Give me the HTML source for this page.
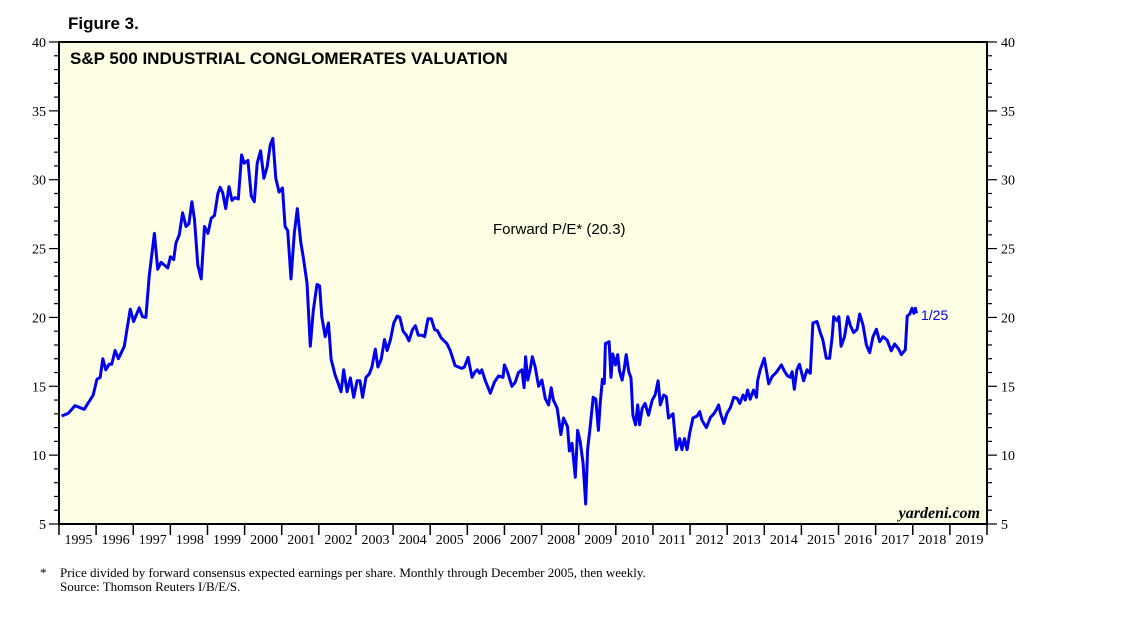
<!DOCTYPE html>
<html><head><meta charset="utf-8"><style>
body{margin:0;background:#fff;width:1138px;height:628px;overflow:hidden}
svg{display:block}
</style></head><body>
<svg id="chart" width="1138" height="628" xmlns="http://www.w3.org/2000/svg">
<text x="68" y="29" font-family="Liberation Sans, sans-serif" font-weight="bold" font-size="17">Figure 3.</text>
<rect x="59" y="42" width="928" height="482" fill="#fefee4" stroke="#000" stroke-width="2"/>
<g id="axes"></g>
<polyline id="line" fill="none" stroke="#0000ee" stroke-width="3" stroke-linejoin="round"/>
<text x="70" y="64" font-family="Liberation Sans, sans-serif" font-weight="bold" font-size="17">S&amp;P 500 INDUSTRIAL CONGLOMERATES VALUATION</text>
<text x="493" y="234" font-family="Liberation Sans, sans-serif" font-size="15">Forward P/E* (20.3)</text>
<text x="921" y="320" fill="#0000ee" font-family="Liberation Sans, sans-serif" font-size="14">1/25</text>
<text x="980" y="518" text-anchor="end" font-family="Liberation Serif, serif" font-style="italic" font-weight="bold" font-size="16">yardeni.com</text>
<text x="40" y="577" font-family="Liberation Serif, serif" font-size="13">*</text>
<text x="60" y="577" font-family="Liberation Serif, serif" font-size="13">Price divided by forward consensus expected earnings per share. Monthly through December 2005, then weekly.</text>
<text x="60" y="591" font-family="Liberation Serif, serif" font-size="13">Source: Thomson Reuters I/B/E/S.</text>
</svg>
<script>
const yearLabels=[1995,1996,1997,1998,1999,2000,2001,2002,2003,2004,2005,2006,2007,2008,2009,2010,2011,2012,2013,2014,2015,2016,2017,2018,2019];
const yTicks=[5,10,15,20,25,30,35,40];
const dates=[1995.07,1995.25,1995.43,1995.68,1995.92,1996.02,1996.11,1996.18,1996.26,1996.35,1996.42,1996.51,1996.60,1996.76,1996.83,1996.92,1997.01,1997.16,1997.25,1997.34,1997.43,1997.57,1997.66,1997.75,1997.93,1998.0,1998.09,1998.15,1998.24,1998.33,1998.42,1998.50,1998.58,1998.65,1998.74,1998.83,1998.92,1999.01,1999.10,1999.19,1999.28,1999.34,1999.41,1999.49,1999.58,1999.66,1999.74,1999.83,1999.92,1999.99,2000.09,2000.18,2000.26,2000.34,2000.43,2000.52,2000.61,2000.69,2000.76,2000.84,2000.93,2001.02,2001.09,2001.16,2001.25,2001.34,2001.42,2001.51,2001.58,2001.68,2001.77,2001.85,2001.95,2002.02,2002.08,2002.17,2002.26,2002.33,2002.44,2002.51,2002.60,2002.67,2002.76,2002.85,2002.94,2003.03,2003.11,2003.18,2003.27,2003.36,2003.43,2003.52,2003.59,2003.68,2003.77,2003.84,2003.93,2004.02,2004.11,2004.18,2004.27,2004.36,2004.43,2004.52,2004.60,2004.68,2004.78,2004.85,2004.94,2005.03,2005.12,2005.19,2005.30,2005.45,2005.54,2005.67,2005.85,2005.92,2006.02,
2006.06,2006.13,2006.21,2006.27,2006.33,2006.39,2006.48,2006.62,2006.73,2006.84,2006.96,2007.0,2007.08,2007.20,2007.29,2007.38,2007.47,2007.53,2007.57,2007.63,2007.70,2007.75,2007.83,2007.92,2008.01,2008.10,2008.19,2008.26,2008.32,2008.42,2008.52,2008.59,2008.70,2008.75,2008.82,2008.91,2008.97,2009.04,2009.12,2009.19,2009.24,2009.31,2009.39,2009.46,2009.53,2009.58,2009.64,2009.69,2009.72,2009.82,2009.87,2009.92,2009.99,2010.05,2010.10,2010.17,2010.23,2010.28,2010.35,2010.41,2010.46,2010.53,2010.59,2010.64,2010.71,2010.79,2010.88,2010.98,2011.06,2011.14,2011.20,2011.29,2011.36,2011.42,2011.54,2011.63,2011.72,2011.78,2011.85,2011.92,2011.99,2012.08,2012.19,2012.26,2012.32,2012.44,2012.55,2012.64,2012.71,2012.77,2012.82,2012.91,2012.99,2013.09,2013.18,2013.27,2013.34,2013.43,2013.49,2013.55,2013.62,2013.71,2013.79,2013.82,2013.89,2014.0,2014.07,2014.12,2014.21,2014.32,2014.46,2014.55,2014.63,2014.70,2014.75,2014.81,2014.88,2014.95,2015.06,2015.15,2015.24,2015.31,2015.42,2015.51,2015.58,2015.67,2015.76,2015.83,2015.87,2015.96,2016.01,2016.07,2016.16,2016.25,2016.32,2016.41,2016.50,2016.57,2016.66,2016.75,2016.84,2016.93,2017.02,2017.11,2017.20,2017.31,2017.42,2017.51,2017.62,2017.69,2017.80,2017.85,2017.92,2017.98,2018.03,2018.07,2018.10];
const peValues=[12.84,13.04,13.6,13.33,14.37,15.5,15.65,17.0,16.2,16.6,16.6,17.6,17.0,17.9,19.1,20.6,19.7,20.7,20.05,20.0,23.0,26.1,23.5,24.0,23.6,24.4,24.2,25.4,26.0,27.6,26.6,26.8,28.4,27.1,23.8,22.8,26.6,26.1,27.2,27.4,29.0,29.45,29.06,27.9,29.5,28.5,28.7,28.6,31.8,31.2,31.4,28.8,28.4,31.2,32.1,30.1,30.95,32.5,33.0,30.1,29.1,29.4,26.6,26.3,22.8,26.1,27.9,25.5,24.4,22.5,17.9,20.5,22.4,22.3,20.05,18.6,19.6,16.96,15.8,15.3,14.6,16.2,14.6,15.6,14.2,15.4,15.4,14.2,15.65,15.9,16.4,17.7,16.4,16.96,18.4,17.6,18.4,19.6,20.1,20.0,19.0,18.7,18.3,19.1,19.4,18.7,18.7,18.6,19.9,19.9,19.1,19.05,18.5,18.1,17.6,16.5,16.3,16.4,17.1,
16.55,15.65,16.06,16.2,15.95,16.2,15.45,14.5,15.3,15.75,15.65,16.55,16.06,15.0,15.3,16.0,16.2,14.9,17.15,15.45,16.3,17.15,16.4,15.0,15.45,14.1,13.65,14.9,14.0,13.4,11.5,12.7,12.07,10.3,10.86,8.4,11.8,10.98,9.4,6.45,10.4,12.07,14.2,14.06,11.8,13.76,15.5,15.2,18.1,18.24,15.65,17.35,16.55,17.3,16.1,15.45,16.3,17.3,16.06,15.6,12.9,12.2,13.65,12.2,13.4,13.76,12.9,14.0,14.37,15.4,13.65,14.37,14.25,12.7,13.0,10.4,11.2,10.4,11.2,10.4,11.6,12.7,12.84,13.16,12.55,12.0,12.75,13.0,13.3,13.65,13.04,12.3,13.0,13.47,14.2,14.13,13.76,14.37,14.0,14.73,14.06,14.73,14.2,15.4,16.2,17.03,15.94,15.17,15.7,16.0,16.55,16.06,15.75,15.65,16.06,14.78,16.2,16.6,15.4,16.2,15.94,19.6,19.7,18.9,18.36,17.03,17.03,18.6,20.05,19.76,20.05,17.9,18.6,20.05,19.4,18.9,19.14,20.25,19.45,18.0,17.44,18.6,19.14,18.24,18.6,18.36,17.58,18.07,17.7,17.3,17.64,20.1,20.25,20.66,20.3,20.66,20.3];

const X0=59,X1=987,Y0=524,Y1=42;
const xs=t=>X0+(t-1995)*(X1-X0)/25;
const ys=v=>Y0-(v-5)*(Y0-Y1)/35;
const NS='http://www.w3.org/2000/svg';
const ax=document.getElementById('axes');
function mk(tag,a){const e=document.createElementNS(NS,tag);for(const k in a)e.setAttribute(k,a[k]);ax.appendChild(e);return e;}
for(let v=5;v<=40;v++){
  const y=ys(v),maj=(v%5===0);
  const l=mk('line',{x1:X0-(maj?10:5),x2:X0,y1:y,y2:y,stroke:'#000','stroke-width':1.2});
  
  
  const r=mk('line',{x1:X1,x2:X1+(maj?10:5),y1:y,y2:y,stroke:'#000','stroke-width':1.2});
  
  
}
yTicks.forEach(v=>{
  const a=mk('text',{x:X0-13,y:ys(v)+5,'text-anchor':'end','font-family':'Liberation Serif, serif','font-size':14});
  a.textContent=v;
  
  
  const b=mk('text',{x:X1+14,y:ys(v)+5,'font-family':'Liberation Serif, serif','font-size':14});
  b.textContent=v;
  
  
});
for(let i=0;i<=yearLabels.length;i++){
  const x=xs(1995+i);
  const t=mk('line',{x1:x,x2:x,y1:Y0,y2:Y0+11,stroke:'#000','stroke-width':1.5});
  
  
}
yearLabels.forEach(yr=>{
  const t=mk('text',{x:xs(yr+0.5)+1,y:Y0+20,'text-anchor':'middle','font-family':'Liberation Serif, serif','font-size':14});
  t.textContent=yr;
  
  
});
document.getElementById('line').setAttribute('points',dates.map((d,i)=>xs(d).toFixed(1)+','+ys(peValues[i]).toFixed(1)).join(' '));
</script>
</body></html>
